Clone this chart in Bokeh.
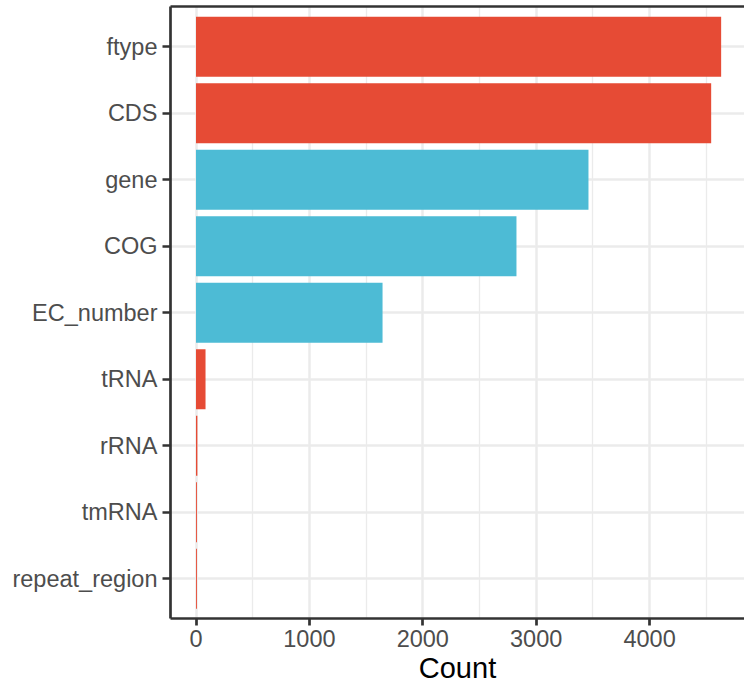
from bokeh.plotting import figure
from bokeh.models import (LinearAxis, FixedTicker, SingleIntervalTicker, ColumnDataSource,
                          Range1d)
from bokeh.embed import file_html
from bokeh.resources import INLINE

# ---- data ----
categories = ["ftype", "CDS", "gene", "COG", "EC_number", "tRNA", "rRNA", "tmRNA", "repeat_region"]
counts = [4631, 4543, 3461, 2826, 1645, 84, 12, 8, 8]
groups = ["red", "red", "blue", "blue", "blue", "red", "red", "red", "red"]
palette = {"red": "#E64B35", "blue": "#4DBBD5"}
x_title = "Count"

n = len(categories)
ypos = [n - i for i in range(n)]  # ftype at top
src = ColumnDataSource(dict(cat=categories, count=counts, y=ypos,
                            color=[palette[g] for g in groups]))

FONT = "Liberation Sans"
BORDER = "#333333"

X0, X1 = -224.9, 4836.9
Y0, Y1 = 0.403, 9.606

p = figure(width=744, height=687, output_backend="svg", toolbar_location=None,
           x_range=Range1d(X0, X1), y_range=Range1d(Y0, Y1),
           min_border_left=170, min_border_right=0, min_border_top=6, min_border_bottom=69,
           x_axis_label=x_title)
p.outline_line_color = None
p.background_fill_color = "white"
p.border_fill_color = "white"

p.hbar(y="y", left=0, right="count", height=0.9, color="color", line_color=None, source=src)

# x axis
xa = p.xaxis[0]
xa.ticker = SingleIntervalTicker(interval=1000, num_minor_ticks=2)
xa.axis_line_color = BORDER
xa.axis_line_width = 2.7
xa.major_tick_line_color = BORDER
xa.major_tick_line_width = 2.7
xa.major_tick_out = 7
xa.major_tick_in = 0
xa.minor_tick_line_color = None
xa.major_label_text_font = FONT
xa.major_label_text_font_size = "23.5px"
xa.major_label_text_color = "#4D4D4D"
xa.major_label_standoff = 4
xa.axis_label_text_font = FONT
xa.axis_label_text_font_size = "29px"
xa.axis_label_text_font_style = "normal"
xa.axis_label_text_color = "black"
xa.axis_label_standoff = 2

# y axis
ya = p.yaxis[0]
ya.ticker = FixedTicker(ticks=ypos)
ya.major_label_overrides = {y: c for y, c in zip(ypos, categories)}
ya.axis_line_color = BORDER
ya.axis_line_width = 2.7
ya.major_tick_line_color = BORDER
ya.major_tick_line_width = 2.7
ya.major_tick_out = 8
ya.major_tick_in = 0
ya.minor_tick_line_color = None
ya.major_label_text_font = FONT
ya.major_label_text_font_size = "23.5px"
ya.major_label_text_color = "#4D4D4D"
ya.major_label_standoff = 5

# top border as an empty axis
top = LinearAxis(ticker=FixedTicker(ticks=[]), axis_line_color=BORDER, axis_line_width=2.7,
                 major_tick_out=0, major_tick_in=0, minor_tick_out=0, minor_tick_in=0,
                 major_label_standoff=0, major_label_text_font_size="0px",
                 axis_label_standoff=0)
p.add_layout(top, "above")

# grids
p.xgrid.grid_line_color = "#EBEBEB"
p.xgrid.grid_line_width = 2.4
p.xgrid.minor_grid_line_color = "#EBEBEB"
p.xgrid.minor_grid_line_width = 1.3
p.ygrid.grid_line_color = "#EBEBEB"
p.ygrid.grid_line_width = 2.4
p.ygrid.ticker = FixedTicker(ticks=ypos)

open("out.html", "w").write(file_html(p, INLINE))
